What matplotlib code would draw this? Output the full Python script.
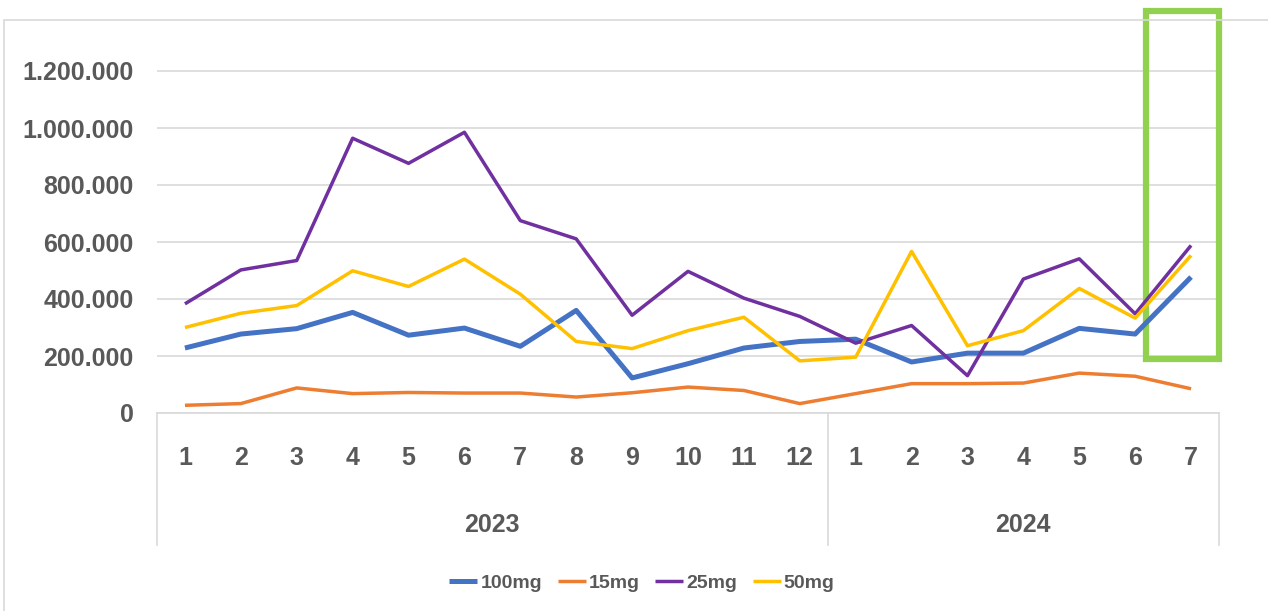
import matplotlib.pyplot as plt
import matplotlib as mpl
from matplotlib.patches import Rectangle
from matplotlib.ticker import FuncFormatter, MultipleLocator

params = {
    'font.family': ['Liberation Sans Narrow', 'Liberation Sans', 'DejaVu Sans'],
    'font.weight': 'bold',
    'text.color': '#595959',
    'xtick.color': '#595959',
    'ytick.color': '#595959',
}
mpl.rcParams.update(params)

years = ['2023', '2024']
months_2023 = [str(m) for m in range(1, 13)]
months_2024 = [str(m) for m in range(1, 8)]
months = months_2023 + months_2024

s_100mg = [228000, 277000, 296000, 353000, 273000, 298000, 234000, 360000, 123000, 173000,
           228000, 251000, 259000, 179000, 210000, 210000, 297000, 277000, 477000]
s_15mg = [27000, 33000, 88000, 68000, 72000, 70000, 70000, 56000, 71000, 91000,
          79000, 33000, 68000, 103000, 103000, 105000, 140000, 129000, 85000]
s_25mg = [383000, 502000, 535000, 964000, 876000, 985000, 675000, 611000, 343000, 497000,
          403000, 339000, 245000, 307000, 131000, 470000, 541000, 348000, 588000]
s_50mg = [300000, 350000, 377000, 499000, 444000, 540000, 417000, 251000, 226000, 289000,
          336000, 183000, 196000, 567000, 236000, 289000, 437000, 333000, 553000]

series = [
    ('100mg', s_100mg, '#4472C4', 3.6),
    ('15mg', s_15mg, '#ED7D31', 2.5),
    ('25mg', s_25mg, '#7030A0', 2.5),
    ('50mg', s_50mg, '#FFC000', 2.5),
]

W, H = 1268, 611
fig = plt.figure(figsize=(W / 100, H / 100), dpi=100)
ax = fig.add_axes([157 / W, 1 - 413 / H, (1219 - 157) / W, (413 - 42.5) / H])

x = list(range(len(months)))
handles = []
for name, vals, color, lw in series:
    h, = ax.plot(x, vals, color=color, linewidth=lw, label=name, solid_capstyle='butt')
    handles.append(h)

ax.set_xlim(-0.5, len(months) - 0.5)
ax.set_ylim(0, 1300000)
ax.yaxis.set_major_locator(MultipleLocator(200000))
ax.yaxis.set_major_formatter(FuncFormatter(lambda v, p: '{:,.0f}'.format(v).replace(',', '.')))
ax.grid(axis='y', color='#d9d9d9', linewidth=1.2)
ax.set_axisbelow(True)
for side in ['top', 'right', 'left']:
    ax.spines[side].set_visible(False)
ax.spines['bottom'].set_color('#d9d9d9')
ax.spines['bottom'].set_linewidth(1.2)
ax.tick_params(axis='y', length=0, pad=17, labelsize=18)
ax.set_xticks(x)
ax.set_xticklabels(months)
ax.tick_params(axis='x', length=0, pad=24, labelsize=18)

# two-level category axis: separators and year labels
trans = ax.get_xaxis_transform()
y_low = -(545 - 413) / (413 - 42.5)
bounds = [-0.5, len(months_2023) - 0.5, len(months) - 0.5]
for b in bounds:
    ax.plot([b, b], [0, y_low], transform=trans, color='#d9d9d9', linewidth=1.2, clip_on=False)
y_year = -(525 - 413) / (413 - 42.5)
ax.text((bounds[0] + bounds[1]) / 2, y_year, years[0], transform=trans,
        ha='center', va='center', fontsize=18)
ax.text((bounds[1] + bounds[2]) / 2, y_year, years[1], transform=trans,
        ha='center', va='center', fontsize=18)

# highlight box around the latest month
last = len(months) - 1
ax.add_patch(Rectangle((last - 0.8, 190000), 1.3, 1220000, fill=False,
                       edgecolor='#92D050', linewidth=4.5, clip_on=False))

# outer chart border
fig.add_artist(Rectangle((4 / W, -0.01), 1.1, 1 - 20 / H + 0.01, transform=fig.transFigure,
                         fill=False, edgecolor='#d9d9d9', linewidth=1.2))

fig.legend(handles=handles, loc='center', bbox_to_anchor=(642 / W, 1 - 583 / H), ncol=4,
           frameon=False, fontsize=14, handlelength=1.45, handletextpad=0.15,
           columnspacing=0.8)

fig.savefig('out.png', dpi=100)
